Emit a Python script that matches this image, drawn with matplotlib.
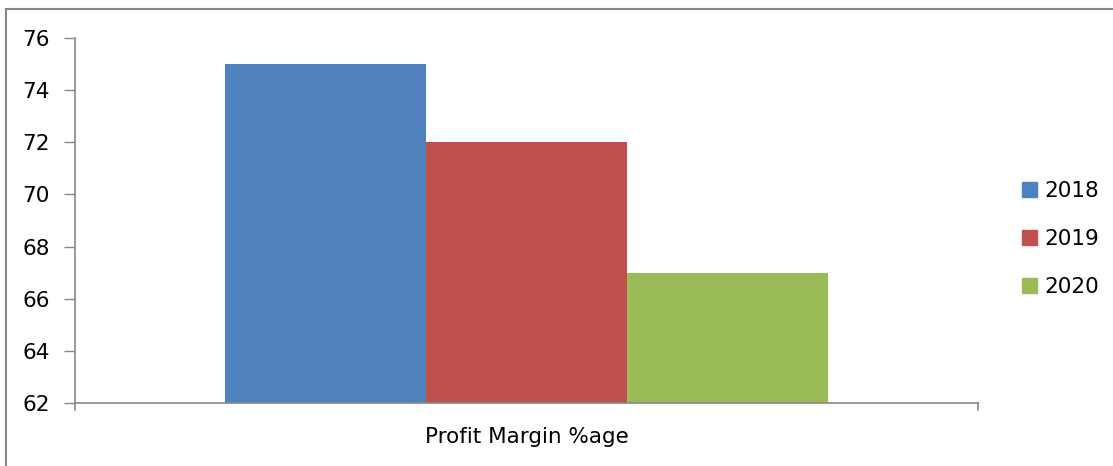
import numpy as np
import matplotlib.pyplot as plt
from matplotlib.lines import Line2D

category = 'Profit Margin %age'
years = ['2018', '2019', '2020']
values = [75, 72, 67]
colors = ['#4f81bd', '#c0504d', '#9bbb59']

W, H = 1113, 466
fig = plt.figure(figsize=(W / 100, H / 100), dpi=100)
ax = fig.add_axes([75 / W, 1 - 403 / H, (978 - 75) / W, (403 - 38) / H])

bw = 200.7 / 903
offsets = (np.arange(len(years)) - 1) * bw
for off, v, c, lab in zip(offsets, values, colors, years):
    ax.bar(off, v - 62, bottom=62, width=bw, color=c, label=lab)

ax.set_xlim(-0.5, 0.5)
ax.set_ylim(62, 76)
ax.set_yticks(np.arange(62, 77, 2))
ax.set_xticks([])
ax.tick_params(axis='y', length=8, width=1, color='#888888', labelsize=15.5, pad=10)
for s in ['top', 'right']:
    ax.spines[s].set_visible(False)
for s in ['left', 'bottom']:
    ax.spines[s].set_color('#888888')
    ax.spines[s].set_linewidth(1.2)

# tick marks at both ends of the category axis
for xe in (-0.5, 0.5):
    ax.plot([xe, xe], [0, -7 / 365], transform=ax.get_xaxis_transform(),
            color='#888888', lw=1.2, clip_on=False)

fig.text(527 / W, 1 - 437 / H, category, ha='center', va='center', fontsize=15.5)

handles = [plt.Rectangle((0, 0), 1, 1, color=c) for c in colors]
fig.legend(handles, years, loc='center left', bbox_to_anchor=(1003 / W, 1 - 239 / H),
           frameon=False, fontsize=15.5, handlelength=0.7, handleheight=0.7,
           handletextpad=0.33, labelspacing=1.3)

# outer chart border (top and left visible)
fig.add_artist(Line2D([6 / W, 1], [1 - 8.5 / H, 1 - 8.5 / H], color='#888888', lw=1.5))
fig.add_artist(Line2D([6 / W, 6 / W], [0, 1 - 8.5 / H], color='#888888', lw=1.5))

fig.savefig('out.png', dpi=100)
